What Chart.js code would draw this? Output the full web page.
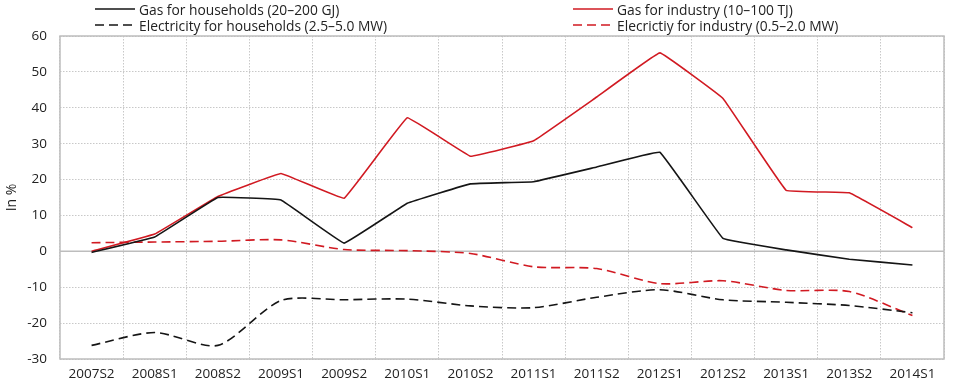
<!DOCTYPE html>
<html>
<head>
<meta charset="utf-8">
<script src="https://cdn.jsdelivr.net/npm/chart.js@4/dist/chart.umd.min.js"></script>
<style>
  body { margin: 0; background: #fff; }
  .wrap { position: relative; width: 960px; height: 386px; }
  .legend { position: absolute; font: 13.8px "Open Sans", sans-serif; color: #222; white-space: nowrap; }
  .legend div { display: flex; align-items: center; height: 16px; }
  .legend svg { margin-right: 4px; }
</style>
</head>
<body>
<div class="wrap">
  <canvas id="chart" width="960" height="386"></canvas>
  <div class="legend" id="legL" style="left:95px; top:1px;"></div>
  <div class="legend" id="legR" style="left:573px; top:1px;"></div>
</div>
<script>
const categories = ['2007S2', '2008S1', '2008S2', '2009S1', '2009S2', '2010S1', '2010S2',
  '2011S1', '2011S2', '2012S1', '2012S2', '2013S1', '2013S2', '2014S1'];

const gasHouseholds = [-0.3, 4.0, 15.0, 14.3, 2.3, 13.4, 18.8, 19.4, 23.5, 27.6, 3.6, 0.4, -2.2, -3.8];
const gasIndustry = [0.0, 4.8, 15.3, 21.7, 14.8, 37.2, 26.5, 30.8, 43.0, 55.3, 42.6, 17.0, 16.3, 6.6];
const elecHouseholds = [-26.2, -22.6, -26.2, -13.7, -13.5, -13.3, -15.2, -15.7, -12.8, -10.7, -13.5, -14.2, -15.1, -17.1];
const elecIndustry = [2.4, 2.6, 2.8, 3.2, 0.5, 0.2, -0.6, -4.3, -4.8, -9.0, -8.2, -10.9, -11.2, -17.9];

const yTicks = [-30, -20, -10, 0, 10, 20, 30, 40, 50, 60];

const BLACK = '#151515';
const RED = '#d11a22';
const DASH = [9, 5];
const FONT = 'Open Sans';

const series = [
  { label: 'Gas for households (20\u2013200 GJ)', data: gasHouseholds, color: BLACK, dash: [], side: 'legL' },
  { label: 'Electricity for households (2.5\u20135.0 MW)', data: elecHouseholds, color: BLACK, dash: DASH, side: 'legL' },
  { label: 'Gas for industry (10\u2013100 TJ)', data: gasIndustry, color: RED, dash: [], side: 'legR' },
  { label: 'Elecrictiy for industry (0.5\u20132.0 MW)', data: elecIndustry, color: RED, dash: DASH, side: 'legR' }
];

// html legend, two columns
series.forEach(s => {
  const row = document.createElement('div');
  row.innerHTML = `<svg width="40" height="4"><line x1="0" y1="2" x2="40" y2="2" stroke="${s.color}" stroke-width="1.6" stroke-dasharray="${s.dash.join(',')}"/></svg><span>${s.label}</span>`;
  document.getElementById(s.side).appendChild(row);
});

// solid zero line + plot frame
const framePlugin = {
  id: 'frame',
  beforeDatasetsDraw(chart) {
    const { ctx, chartArea: a, scales } = chart;
    const y0 = scales.y.getPixelForValue(0);
    ctx.save();
    ctx.strokeStyle = '#bdbdbd';
    ctx.lineWidth = 1.5;
    ctx.beginPath();
    ctx.moveTo(a.left, y0);
    ctx.lineTo(a.right, y0);
    ctx.stroke();
    ctx.strokeRect(a.left, a.top, a.right - a.left, a.bottom - a.top);
    ctx.restore();
  }
};

new Chart(document.getElementById('chart'), {
  type: 'line',
  data: {
    labels: categories,
    datasets: series.map(s => ({
      label: s.label,
      data: s.data,
      borderColor: s.color,
      backgroundColor: s.color,
      borderWidth: 1.6,
      borderDash: s.dash,
      pointRadius: 0,
      tension: s.dash.length ? 0.25 : 0.05,
      fill: false
    }))
  },
  options: {
    responsive: false,
    animation: false,
    layout: { padding: { top: 36, right: 16, left: 0, bottom: 0 } },
    plugins: { legend: { display: false }, tooltip: { enabled: false } },
    scales: {
      x: {
        offset: true,
        grid: { offset: true, color: '#c8c8c8', drawTicks: false },
        border: { display: false, dash: [1.5, 1.5] },
        ticks: { color: '#222', font: { family: FONT, size: 13.5 }, padding: 7, maxRotation: 0, autoSkip: false },
        afterFit(scale) { scale.height = 27; }
      },
      y: {
        min: -30,
        max: 60,
        afterBuildTicks(scale) { scale.ticks = yTicks.map(v => ({ value: v })); },
        grid: { color: '#c8c8c8', drawTicks: false },
        border: { display: false, dash: [1.5, 1.5] },
        ticks: { color: '#222', font: { family: FONT, size: 13.5 }, padding: 13 },
        title: { display: true, text: 'In %', color: '#222', font: { family: FONT, size: 14 }, padding: { top: 4, bottom: 0 } },
        afterFit(scale) { scale.width = 60; }
      }
    }
  },
  plugins: [framePlugin]
});
</script>
</body>
</html>
